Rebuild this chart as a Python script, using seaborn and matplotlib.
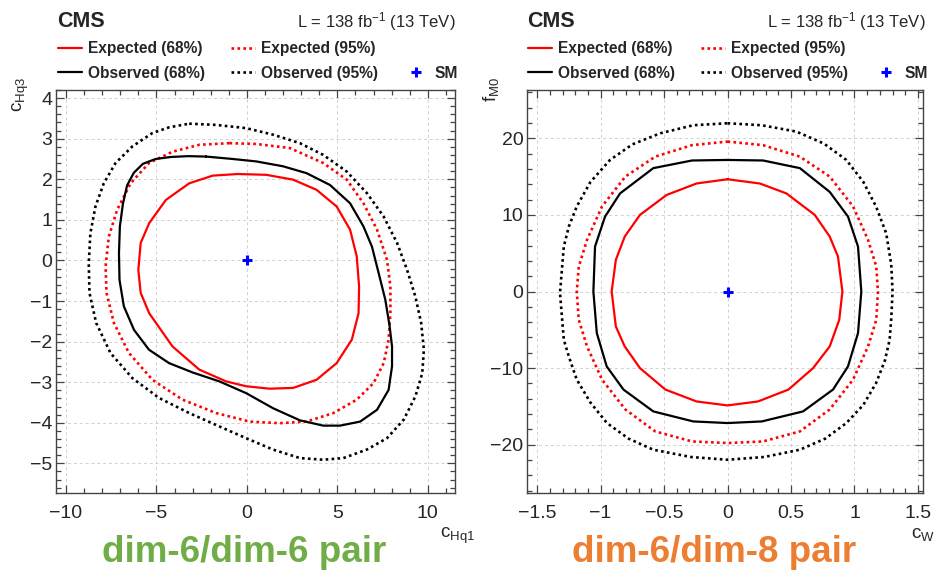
import numpy as np
import matplotlib
matplotlib.use("Agg")
import matplotlib.pyplot as plt
from matplotlib.lines import Line2D
from matplotlib.ticker import MultipleLocator, FuncFormatter
import seaborn as sns

# ---------------- data: left panel (c_Hq1 vs c_Hq3) ----------------
L_exp68_x = [-0.5, 1.07, 2.56, 3.85, 4.96, 5.7, 6.07, 6.2, 6.17, 5.8, 4.96, 3.85, 2.56, 1.26, -0.04,
             -1.15, -2.63, -4.11, -5.4, -5.87, -6.0, -5.87, -5.4, -4.48, -3.19, -1.89]
L_exp68_y = [2.13, 2.11, 1.99, 1.74, 1.33, 0.76, 0.10, -0.64, -1.30, -1.95, -2.53, -2.94, -3.14, -3.16, -3.10,
             -2.98, -2.69, -2.12, -1.30, -0.80, -0.23, 0.43, 0.92, 1.49, 1.90, 2.09]

L_exp95_x = [-0.96, 0.52, 2.37, 4.22, 5.52, 6.44, 7.19, 7.74, 7.93, 7.93, 7.83, 7.56, 7.0, 6.07, 4.78, 3.3,
             1.81, 0.15, -1.70, -3.56, -5.22, -6.52, -7.35, -7.76, -7.81, -7.63, -7.17, -6.43, -5.41, -4.11, -2.63]
L_exp95_y = [2.89, 2.87, 2.77, 2.40, 1.99, 1.41, 0.76, 0.02, -0.64, -1.30, -1.95, -2.53, -3.02, -3.43, -3.76, -3.97,
             -4.01, -3.97, -3.76, -3.43, -2.94, -2.28, -1.54, -0.80, -0.15, 0.59, 1.25, 1.90, 2.40, 2.68, 2.85]

L_obs68_x = [-2.26, -0.78, 0.52, 2.0, 3.3, 4.59, 5.70, 6.44, 6.91, 7.28, 7.65, 7.89, 8.02, 8.02, 7.83, 7.19,
             6.26, 5.15, 4.22, 2.93, 1.44, -0.04, -1.52, -3.0, -4.30, -5.41, -6.24, -6.80, -7.04, -7.07,
             -7.02, -6.85, -6.62, -6.25, -5.75, -5.05, -4.20, -3.25]
L_obs68_y = [2.56, 2.50, 2.44, 2.32, 2.15, 1.86, 1.41, 0.84, 0.34, -0.31, -0.97, -1.63, -2.12, -2.61, -3.19, -3.68,
             -3.97, -4.07, -4.07, -3.94, -3.64, -3.27, -2.98, -2.76, -2.53, -2.20, -1.71, -1.13, -0.48, 0.18,
             0.84, 1.40, 1.85, 2.16, 2.38, 2.50, 2.55, 2.57]

L_obs95_x = [-3.19, -1.70, -0.04, 1.44, 2.93, 4.22, 5.52, 6.63, 7.56, 8.30, 8.85, 9.31, 9.63, 9.78, 9.69, 9.31,
             8.67, 7.74, 6.63, 5.33, 4.22, 2.93, 1.44, -0.04, -1.52, -3.19, -4.85, -6.33, -7.54, -8.33, -8.70,
             -8.74, -8.65, -8.37, -7.91, -7.26, -6.33, -5.22, -4.30]
L_obs95_y = [3.37, 3.34, 3.26, 3.10, 2.89, 2.60, 2.19, 1.66, 1.08, 0.43, -0.23, -0.89, -1.54, -2.20, -2.78, -3.35,
             -3.92, -4.38, -4.66, -4.87, -4.91, -4.87, -4.66, -4.38, -4.09, -3.76, -3.39, -2.90, -2.28, -1.54, -0.80,
             -0.07, 0.67, 1.33, 1.90, 2.40, 2.81, 3.14, 3.28]

# ---------------- data: right panel (c_W vs f_M0) ----------------
R_exp68_x = [0.0, 0.254, 0.464, 0.687, 0.805, 0.87, 0.905, 0.88, 0.805, 0.674, 0.48, 0.24, 0.0,
             -0.244, -0.49, -0.69, -0.81, -0.88, -0.913, -0.88, -0.81, -0.69, -0.48, -0.244]
R_exp68_y = [14.65, 14.1, 12.8, 10.0, 7.17, 4.57, 0.0, -3.7, -7.17, -10.0, -12.8, -14.35, -14.87,
             -14.35, -12.8, -10.0, -7.17, -4.57, 0.0, 4.13, 7.17, 10.0, 12.6, 14.1]

R_exp95_x = [0.0, 0.28, 0.57, 0.805, 0.989, 1.107, 1.172, 1.185, 1.172, 1.107, 0.989, 0.805, 0.57, 0.28, 0.0,
             -0.28, -0.57, -0.805, -0.989, -1.107, -1.172, -1.188, -1.172, -1.107, -0.989, -0.805, -0.57, -0.28]
R_exp95_y = [19.57, 19.1, 17.6, 15.0, 11.1, 6.74, 3.26, 0.0, -3.7, -7.17, -11.5, -15.4, -18.26, -19.57, -19.78,
             -19.57, -18.26, -15.4, -11.5, -7.17, -3.7, 0.0, 3.26, 6.74, 11.1, 15.0, 17.6, 19.1]

R_obs68_x = [0.0, 0.28, 0.57, 0.805, 0.949, 1.028, 1.054, 1.028, 0.949, 0.831, 0.595, 0.27, 0.0,
             -0.27, -0.585, -0.82, -0.952, -1.03, -1.057, -1.044, -0.965, -0.847, -0.585, -0.28]
R_obs68_y = [17.17, 17.1, 16.1, 13.0, 9.78, 5.87, 0.0, -5.43, -9.78, -12.8, -15.65, -16.96, -17.17,
             -16.96, -15.65, -12.8, -9.78, -5.43, 0.0, 5.87, 9.78, 12.8, 16.1, 17.1]

R_obs95_x = [0.0, 0.27, 0.543, 0.76, 0.936, 1.07, 1.17, 1.25, 1.29, 1.30, 1.29, 1.277, 1.24, 1.17, 1.07, 0.936,
             0.77, 0.57, 0.29, 0.0, -0.29, -0.585, -0.78, -0.95, -1.08, -1.188, -1.25, -1.29, -1.32, -1.29,
             -1.25, -1.188, -1.08, -0.926, -0.75, -0.53, -0.27]
R_obs95_y = [21.96, 21.7, 20.87, 19.3, 17.17, 14.3, 11.1, 7.6, 3.5, 0.0, -3.5, -6.3, -9.0, -11.96, -14.8, -17.17,
             -19.2, -20.65, -21.6, -21.96, -21.6, -20.65, -19.2, -17.17, -14.5, -11.5, -8.5, -6.3, -0.2, 5.87,
             8.5, 11.1, 14.3, 17.17, 19.2, 20.65, 21.7]

SM_x = [0.0]
SM_y = [0.0]

legend_labels = ["Expected (68%)", "Expected (95%)", "Observed (68%)", "Observed (95%)", "SM"]
panel_titles = ["dim-6/dim-6 pair", "dim-6/dim-8 pair"]
title_colors = ["#70AD47", "#ED7D31"]

# ---------------- style ----------------
sns.set_style("white")
plt.rcParams["font.family"] = ["Liberation Sans", "DejaVu Sans"]
plt.rcParams["mathtext.fontset"] = "custom"
plt.rcParams["mathtext.rm"] = "Liberation Sans"
plt.rcParams["mathtext.it"] = "Liberation Sans:italic"
plt.rcParams["mathtext.bf"] = "Liberation Sans:bold"

W, H = 936, 570
fig = plt.figure(figsize=(W / 100, H / 100), dpi=100)


def fx(px):
    return px / W


def fy(py):
    return 1 - py / H


axL = fig.add_axes([fx(56), fy(493), fx(455) - fx(56), fy(90) - fy(493)])
axR = fig.add_axes([fx(527), fy(493), fx(923) - fx(527), fy(90) - fy(493)])

DOT = (0, (1.0, 1.25))
LW_S = 1.6
LW_D = 1.9


def closed(a):
    return np.append(np.asarray(a, float), a[0])


def draw(ax, e68, e95, o68, o95):
    for (xs, ys), col, ls, lw in [(o95, "black", DOT, LW_D), (e95, "red", DOT, LW_D),
                                  (o68, "black", "-", LW_S), (e68, "red", "-", LW_S)]:
        sns.lineplot(x=closed(xs), y=closed(ys), sort=False, estimator=None, ax=ax,
                     color=col, linewidth=lw, linestyle=ls)
    sns.scatterplot(x=SM_x, y=SM_y, ax=ax, marker="+", s=50, linewidth=2.2, color="blue", zorder=5)


draw(axL, (L_exp68_x, L_exp68_y), (L_exp95_x, L_exp95_y), (L_obs68_x, L_obs68_y), (L_obs95_x, L_obs95_y))
draw(axR, (R_exp68_x, R_exp68_y), (R_exp95_x, R_exp95_y), (R_obs68_x, R_obs68_y), (R_obs95_x, R_obs95_y))

axL.set_xlim(-10.55, 11.5)
axL.set_ylim(-5.73, 4.2)
axL.xaxis.set_major_locator(MultipleLocator(5))
axL.xaxis.set_minor_locator(MultipleLocator(1))
axL.yaxis.set_major_locator(MultipleLocator(1))
axL.yaxis.set_minor_locator(MultipleLocator(0.2))

axR.set_xlim(-1.58, 1.54)
axR.set_ylim(-26.3, 26.3)
axR.xaxis.set_major_locator(MultipleLocator(0.5))
axR.xaxis.set_minor_locator(MultipleLocator(0.1))
axR.yaxis.set_major_locator(MultipleLocator(10))
axR.yaxis.set_minor_locator(MultipleLocator(2))


def fmt_num(v, pos=None):
    s = "%g" % v
    if s == "-0":
        s = "0"
    return s.replace("-", "\u2212")


for ax in (axL, axR):
    ax.xaxis.set_major_formatter(FuncFormatter(fmt_num))
    ax.yaxis.set_major_formatter(FuncFormatter(fmt_num))
    ax.set_xlabel("")
    ax.set_ylabel("")
    ax.grid(True, which="major", color="#cfcfcf", linestyle=(0, (3, 3)), linewidth=0.7)
    ax.set_axisbelow(True)
    ax.tick_params(which="both", direction="in", top=True, right=True, bottom=True, left=True,
                   color="#444444", width=0.9)
    ax.tick_params(which="major", length=6.0)
    ax.tick_params(which="minor", length=3.4)
    ax.tick_params(axis="x", which="major", labelsize=14, pad=9)
    ax.tick_params(axis="y", which="major", labelsize=14, pad=2.5)
    for sp in ax.spines.values():
        sp.set_color("#444444")
        sp.set_linewidth(1.0)
    if ax.get_legend() is not None:
        ax.get_legend().remove()

# ---------------- headers and legends ----------------
handles = [
    Line2D([], [], color="red", lw=LW_S, ls="-"),
    Line2D([], [], color="black", lw=LW_S, ls="-"),
    Line2D([], [], color="red", lw=LW_D, ls=DOT),
    Line2D([], [], color="black", lw=LW_D, ls=DOT),
    Line2D([], [], color="none", lw=0),
    Line2D([], [], color="blue", lw=0, marker="+", markersize=7, markeredgewidth=2.2),
]
labels = [legend_labels[0], legend_labels[2], legend_labels[1], legend_labels[3], "", legend_labels[4]]

for x0, xr in [(57, 456), (527, 926)]:
    fig.text(fx(x0), fy(27), "CMS", fontsize=15.5, fontweight="bold", ha="left", va="baseline")
    fig.text(fx(xr), fy(27), r"L = 138 fb$^{-1}$ (13 TeV)", fontsize=12, ha="right", va="baseline")
    fig.legend(handles, labels, ncol=3, loc="upper left", bbox_to_anchor=(fx(x0 + 1), fy(41)),
               frameon=False, borderpad=0, borderaxespad=0, handlelength=1.55, handletextpad=0.4,
               columnspacing=1.65, labelspacing=0.62,
               prop={"family": "Liberation Sans", "weight": "bold", "size": 11.2})

# axis titles
fig.text(fx(440), fy(538), r"$\mathrm{c}_{\mathrm{Hq1}}$", fontsize=13.5, ha="left", va="baseline")
fig.text(fx(911), fy(538), r"$\mathrm{c}_{\mathrm{W}}$", fontsize=13.5, ha="left", va="baseline")
fig.text(fx(21), fy(77), r"$\mathrm{c}_{\mathrm{Hq3}}$", fontsize=13.5, rotation=90, ha="center", va="top")
fig.text(fx(491), fy(77), r"$\mathrm{f}_{\mathrm{M0}}$", fontsize=13.5, rotation=90, ha="center", va="top")

# panel captions
fig.text(fx(244), fy(562), panel_titles[0], fontsize=26.5, fontweight="bold", color=title_colors[0],
         ha="center", va="baseline")
fig.text(fx(714), fy(562), panel_titles[1], fontsize=26.5, fontweight="bold", color=title_colors[1],
         ha="center", va="baseline")

fig.savefig("out.png", dpi=100)
